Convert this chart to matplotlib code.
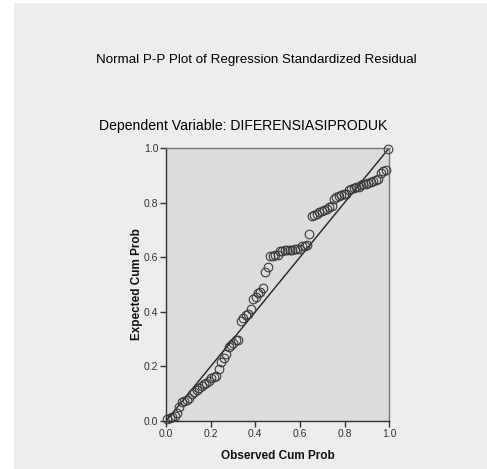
import matplotlib.pyplot as plt
from matplotlib.patches import Rectangle

# Observed vs expected cumulative probabilities
observed = [0.005, 0.016, 0.027, 0.038, 0.049, 0.060, 0.071, 0.082, 0.093, 0.104,
            0.115, 0.126, 0.137, 0.148, 0.159, 0.170, 0.181, 0.192, 0.203, 0.214,
            0.225, 0.236, 0.247, 0.258, 0.269, 0.280, 0.291, 0.302, 0.313, 0.324,
            0.335, 0.346, 0.357, 0.368, 0.379, 0.390, 0.401, 0.412, 0.423, 0.434,
            0.445, 0.456, 0.467, 0.478, 0.489, 0.500, 0.511, 0.522, 0.533, 0.544,
            0.555, 0.566, 0.577, 0.588, 0.599, 0.610, 0.621, 0.632, 0.643, 0.654,
            0.665, 0.676, 0.687, 0.698, 0.709, 0.720, 0.731, 0.742, 0.753, 0.764,
            0.775, 0.786, 0.797, 0.808, 0.819, 0.830, 0.841, 0.852, 0.863, 0.874,
            0.885, 0.896, 0.907, 0.918, 0.929, 0.940, 0.951, 0.962, 0.973, 0.984,
            0.995]
expected = [0.008, 0.012, 0.015, 0.018, 0.030, 0.052, 0.068, 0.074, 0.078, 0.084,
            0.100, 0.108, 0.113, 0.120, 0.128, 0.137, 0.140, 0.146, 0.158, 0.162,
            0.165, 0.190, 0.217, 0.230, 0.246, 0.272, 0.280, 0.285, 0.295, 0.298,
            0.368, 0.376, 0.388, 0.392, 0.412, 0.446, 0.455, 0.468, 0.472, 0.488,
            0.545, 0.566, 0.604, 0.606, 0.608, 0.610, 0.622, 0.624, 0.625, 0.626,
            0.627, 0.628, 0.629, 0.630, 0.632, 0.640, 0.642, 0.644, 0.684, 0.750,
            0.754, 0.758, 0.764, 0.770, 0.774, 0.778, 0.784, 0.788, 0.812, 0.820,
            0.826, 0.828, 0.830, 0.832, 0.846, 0.850, 0.852, 0.856, 0.858, 0.866,
            0.868, 0.870, 0.872, 0.874, 0.880, 0.884, 0.888, 0.910, 0.916, 0.918,
            0.996]
ref_line = [0.0, 1.0]
ticks = [0.0, 0.2, 0.4, 0.6, 0.8, 1.0]
tick_labels = ["0.0", "0.2", "0.4", "0.6", "0.8", "1.0"]

plt.rcParams['font.family'] = ['Liberation Sans', 'DejaVu Sans']

fig = plt.figure(figsize=(4.87, 4.69), dpi=100)
fig.patch.set_facecolor('white')
fig.patches.append(Rectangle((14 / 487, 0), 1, 466 / 469, transform=fig.transFigure,
                             facecolor='#EDEDED', edgecolor='none', zorder=-1))

ax = fig.add_axes([0.341, 0.1023, 0.458, 0.582])
ax.set_facecolor('#DCDCDC')

ax.plot(ref_line, ref_line, color='#222222', linewidth=1.0, zorder=2)
ax.plot(observed, expected, linestyle='none', marker='o', markersize=6.2,
        markerfacecolor='none', markeredgecolor='#3a3a3a', markeredgewidth=0.8,
        zorder=3, clip_on=False)

ax.set_xlim(0, 1)
ax.set_ylim(0, 1)
ax.set_xticks(ticks)
ax.set_xticklabels(tick_labels)
ax.set_yticks(ticks)
ax.set_yticklabels(tick_labels)
ax.tick_params(direction='out', length=4, width=1, colors='#333333',
               labelsize=7.5, pad=1.5)

for side in ['left', 'bottom']:
    ax.spines[side].set_color('#333333')
    ax.spines[side].set_linewidth(1.0)
for side in ['top', 'right']:
    ax.spines[side].set_color('#777777')
    ax.spines[side].set_linewidth(1.0)

ax.set_xlabel('Observed Cum Prob', fontsize=8.5, fontweight='bold', labelpad=8,
              color='#111111')
ax.set_ylabel('Expected Cum Prob', fontsize=8.5, fontweight='bold', labelpad=1,
              color='#111111')

fig.text(0.526, 0.872, 'Normal P-P Plot of Regression Standardized Residual',
         ha='center', va='center', fontsize=9.6, color='black')
fig.text(0.499, 0.731, 'Dependent Variable: DIFERENSIASIPRODUK',
         ha='center', va='center', fontsize=10.1, color='black')

fig.savefig('out.png', dpi=100, facecolor=fig.get_facecolor())
